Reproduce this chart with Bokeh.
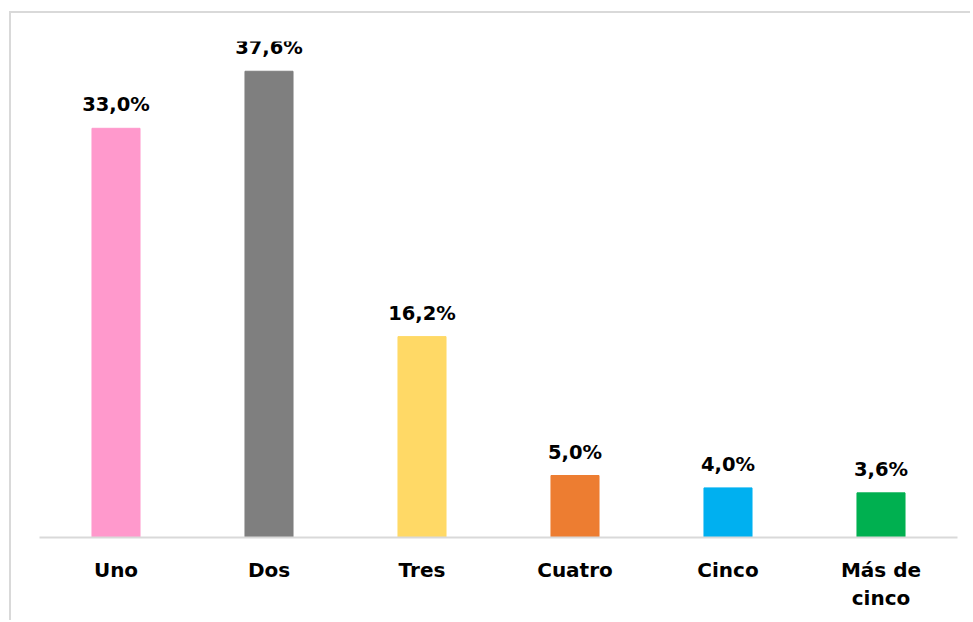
from bokeh.plotting import figure
from bokeh.models import ColumnDataSource, LabelSet, Range1d, FactorRange
from bokeh.core.properties import value
from bokeh.embed import file_html
from bokeh.resources import INLINE

categories = ["Uno", "Dos", "Tres", "Cuatro", "Cinco", "Más de\ncinco"]
values = [33.0, 37.6, 16.2, 5.0, 4.0, 3.6]
labels = ["33,0%", "37,6%", "16,2%", "5,0%", "4,0%", "3,6%"]
colors = ["#FF99CC", "#7F7F7F", "#FFD966", "#ED7D31", "#00B0F0", "#00B050"]

src = ColumnDataSource(dict(cat=categories, val=values, lab=labels, col=colors))

p = figure(x_range=FactorRange(*categories, range_padding=0), y_range=Range1d(0, 40),
           width=961, height=609, output_backend="svg", toolbar_location=None,
           min_border_left=28, min_border_right=15, min_border_top=28, min_border_bottom=85)
p.styles = {"margin-left": "9px", "margin-top": "11px",
            "border-left": "2px solid #d9d9d9", "border-top": "2px solid #d9d9d9"}
p.outline_line_color = None
p.grid.visible = False
p.yaxis.visible = False
p.vbar(x="cat", top="val", width=0.314, color="col", source=src)

p.add_layout(LabelSet(x="cat", y="val", text="lab", source=src, text_align="center",
                      text_baseline="bottom", y_offset=12, text_font=value("DejaVu Sans"),
                      text_font_style="bold", text_font_size="19.5px", text_color="#000000"))

ax = p.xaxis[0]
ax.axis_line_color = "#d9d9d9"
ax.axis_line_width = 2
ax.major_tick_line_color = None
ax.minor_tick_line_color = None
ax.major_label_text_font = "DejaVu Sans"
ax.major_label_text_font_style = "bold"
ax.major_label_text_font_size = "20px"
ax.major_label_text_color = "#000000"
ax.major_label_standoff = 14

open("out.html", "w").write(file_html(p, INLINE))
